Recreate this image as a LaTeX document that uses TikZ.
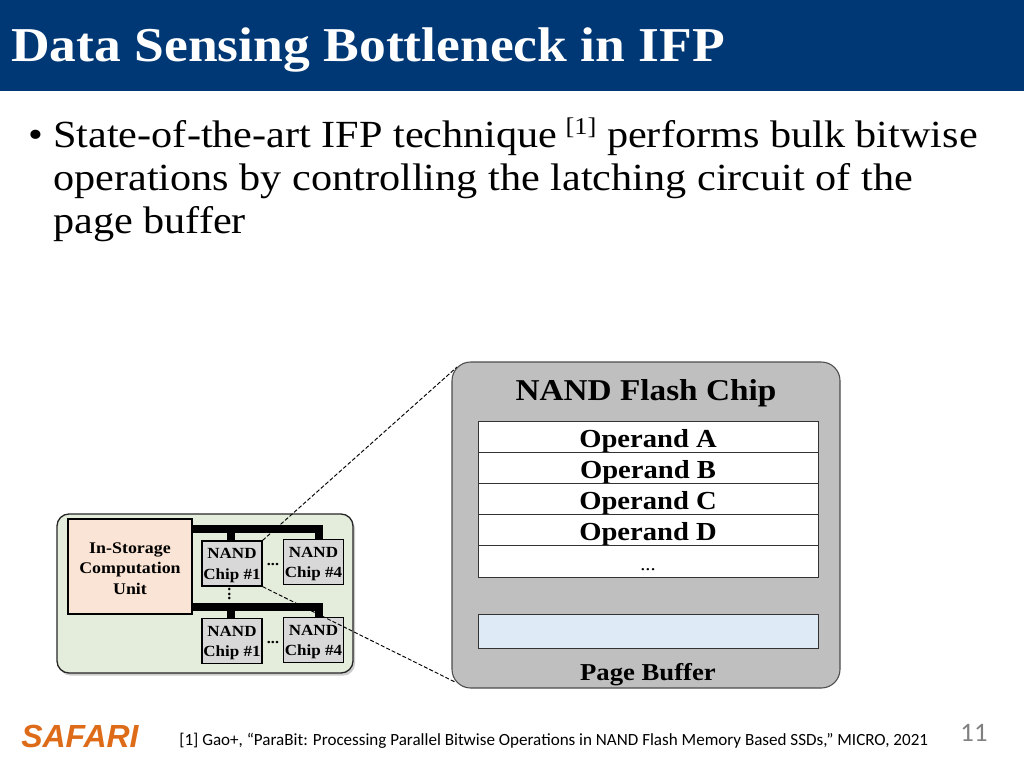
\documentclass[tikz,border=0pt]{standalone}
\usepackage{fontspec}
\setmainfont[FakeStretch=1.1]{Liberation Serif}
\newfontfamily\serifbold[FakeStretch=1.1]{Liberation Serif}
\newfontfamily\calibrifont{Carlito}
\newfontfamily\logofont{Liberation Sans}
\usetikzlibrary{shadows}
\definecolor{titleblue}{RGB}{0,56,118}
\definecolor{boardgreen}{RGB}{228,236,219}
\definecolor{unitpink}{RGB}{250,228,213}
\definecolor{chipgray}{RGB}{216,216,216}
\definecolor{flashgray}{RGB}{191,191,191}
\definecolor{bufferblue}{RGB}{222,234,246}
\definecolor{safariorange}{RGB}{222,107,24}
\tikzset{
  chiptext/.style={inner sep=0pt,align=center,yshift=-1.6pt,font=\serifbold\bfseries\fontsize{11.6}{15.4}\selectfont},
  unittext/.style={chiptext,font=\serifbold\bfseries\fontsize{12.2}{15.4}\selectfont},
  chipbox/.style={draw=black,line width=1pt,fill=chipgray,minimum width=60pt*0.75,minimum height=45pt*0.75,inner sep=0pt},
  rowbox/.style={draw=black!80,line width=0.7pt,fill=white,minimum width=340pt*0.75,minimum height=31pt*0.75,inner sep=0pt,text height=15.8pt,text depth=0pt,font=\serifbold\bfseries\fontsize{19.5}{19.5}\selectfont},
  bus/.style={line width=6pt},
  zoomline/.style={line width=0.7pt,dash pattern=on 3pt off 1.5pt},
  dotlabel/.style={inner sep=0pt,font=\serifbold\bfseries\fontsize{11}{11}\selectfont},
  bodyline/.style={anchor=base west,inner sep=0pt,font=\fontsize{28.8}{28.8}\selectfont},
}
\begin{document}
\begin{tikzpicture}[x=0.75pt,y=0.75pt,yscale=-1,xscale=1]
\useasboundingbox (0,0) rectangle (1024,768);

%Title bar
\fill[titleblue] (0,0) rectangle (1024,90.5);
\node[anchor=base west,text=white,inner sep=0pt,font=\serifbold\bfseries\fontsize{36.5}{36.5}\selectfont] (title) at (11,61) {Data Sensing Bottleneck in IFP};

%Bullet text
\node[bodyline] (bullet) at (28,147.5) {•};
\node[bodyline] (lineone) at (53,147.5) {State-of-the-art IFP technique\hspace{6pt}\raisebox{10pt}{\fontsize{18}{18}\selectfont [1]}\hspace{8pt}performs bulk bitwise};
\node[bodyline] (linetwo) at (53,190) {operations by controlling the latching circuit of the};
\node[bodyline] (linethree) at (53,233) {page buffer};

%Storage board
\node[draw=black!85,line width=1pt,fill=boardgreen,rounded corners=9pt,minimum width=296pt*0.75,minimum height=159pt*0.75,drop shadow={shadow xshift=1.5pt,shadow yshift=-2pt,opacity=0.4},inner sep=0pt] (board) at (205,593.5) {};

\node[draw=black,line width=1pt,fill=unitpink,minimum width=124pt*0.75,minimum height=95pt*0.75,inner sep=0pt,label={[unittext]center:{In-Storage\\Computation\\Unit}}] (unit) at (130,566.5) {};
\node[chipbox,label={[chiptext]center:{NAND\\Chip \#1}}] (chipa) at (232,563.5) {};
\node[chipbox,label={[chiptext]center:{NAND\\Chip \#4}}] (chipb) at (313.5,562) {};
\node[chipbox,label={[chiptext]center:{NAND\\Chip \#1}}] (chipc) at (232,641) {};
\node[chipbox,label={[chiptext]center:{NAND\\Chip \#4}}] (chipd) at (313.5,640) {};

%Buses
\draw[bus] (unit.east |- 0,529) -- (319,529) -- (319,0 |- chipb.north);
\draw[bus] (231,529) -- (231,0 |- chipa.north);
\draw[bus] (unit.east |- 0,607) -- (319,607) -- (319,0 |- chipd.north);
\draw[bus] (231,607) -- (231,0 |- chipc.north);

\node[dotlabel] (dotsa) at (273,565) {...};
\node[dotlabel] (dotsb) at (273,643) {...};
\node[dotlabel,rotate=90] (dotsc) at (229.5,594) {...};

%Flash chip
\coordinate (zoomtop) at (457,367);
\coordinate (zoombot) at (455,682);
\draw[zoomline] (chipa.north east) -- (zoomtop);
\draw[zoomline] (chipa.south east) -- (zoombot);
\node[draw=black!70,line width=0.8pt,fill=flashgray,rounded corners=14pt,minimum width=388pt*0.75,minimum height=326pt*0.75,inner sep=0pt] (flash) at (646,525) {};
\node[anchor=base,inner sep=0pt,font=\serifbold\bfseries\fontsize{22.7}{22.7}\selectfont] (flashtitle) at (646,400) {NAND Flash Chip};
\node[rowbox] (rowa) at (648,436.5) {Operand A};
\node[rowbox] (rowb) at (648,467.5) {Operand B};
\node[rowbox] (rowc) at (648,498.5) {Operand C};
\node[rowbox] (rowd) at (648,529.5) {Operand D};
\node[rowbox,minimum height=32pt*0.75,text height=13.5pt,font=\fontsize{14}{14}\selectfont] (rowe) at (648,561) {...};
\node[rowbox,fill=bufferblue,minimum height=34pt*0.75] (buffer) at (648,631) {};
\node[anchor=base,inner sep=0pt,font=\serifbold\bfseries\fontsize{18.2}{18.2}\selectfont] (bufferlabel) at (648,680) {Page Buffer};

%Footer
\node[anchor=west,inner sep=0pt,text=safariorange,font=\logofont\bfseries\itshape\fontsize{24}{24}\selectfont] (logo) at (21,736) {SAFARI};
\node[anchor=west,inner sep=0pt,font=\calibrifont\fontsize{12.8}{12.8}\selectfont] (cite) at (179,741) {[1] Gao+, “ParaBit: Processing Parallel Bitwise Operations in NAND Flash Memory Based SSDs,” MICRO, 2021};
\node[inner sep=0pt,text=black!50,font=\calibrifont\fontsize{20}{20}\selectfont] (pagenum) at (974,733) {11};
\end{tikzpicture}
\end{document}
